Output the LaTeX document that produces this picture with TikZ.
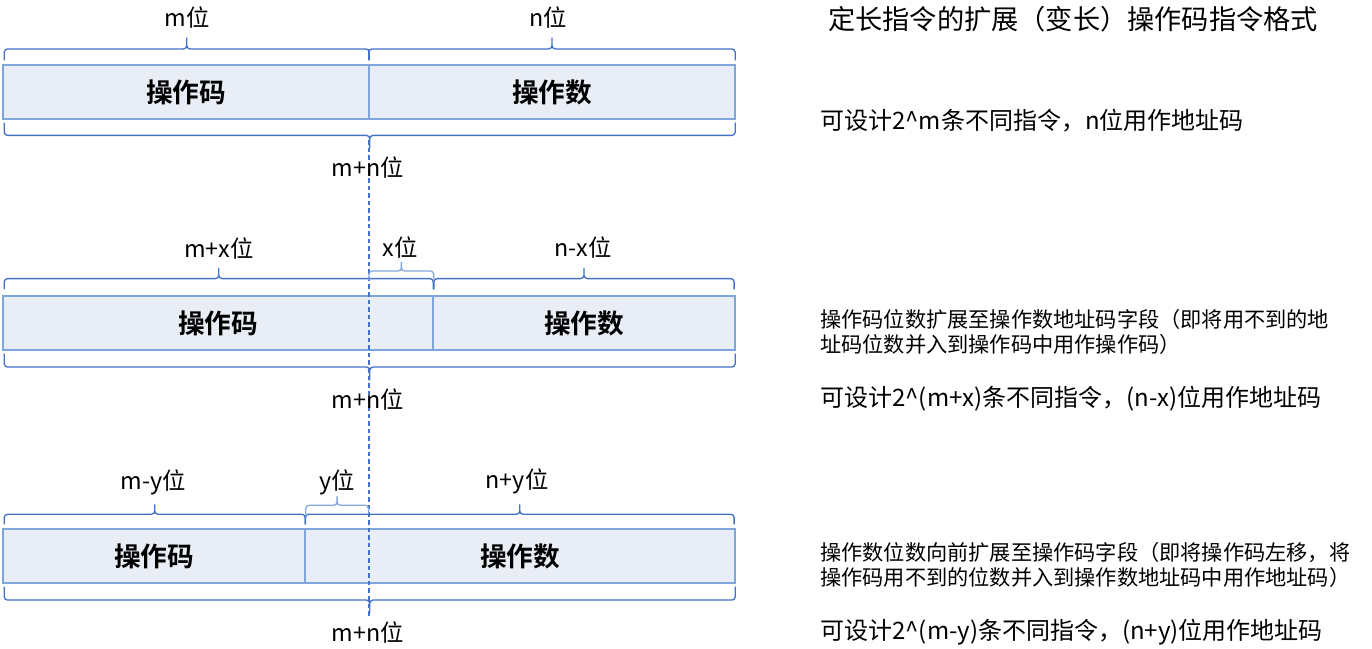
\documentclass[tikz,border=0pt]{standalone}
\usepackage{fontspec}
\setmainfont{Noto Sans CJK SC}[BoldFont={Noto Sans CJK SC Bold}]
\usepackage{tikz}
\usetikzlibrary{calc}
\definecolor{fieldfill}{RGB}{233,237,246}
\definecolor{fielddraw}{RGB}{124,166,220}
\definecolor{bracedark}{RGB}{68,114,196}
\definecolor{bracelight}{RGB}{132,168,222}
\tikzset{
  field/.style={
    rectangle, draw=fielddraw, fill=fieldfill, line width=1.1pt,
    inner sep=0pt, minimum height=40.5pt,
    font=\fontsize{20}{24}\selectfont\bfseries
  },
  brc/.style={draw=bracedark, line width=1pt, rounded corners=2.5pt},
  lbrc/.style={brc, draw=bracelight},
  brcup/.style={to path={let \p1=(\tikztostart), \p2=(\tikztotarget) in
      (\p1) |- ({(\x1+\x2)/2},{\y1+#1}) -- ({(\x1+\x2)/2},{\y1+2*#1})
      (\p2) |- ({(\x1+\x2)/2},{\y1+#1}) -- ({(\x1+\x2)/2},{\y1+2*#1})}},
  brcdn/.style={to path={let \p1=(\tikztostart), \p2=(\tikztotarget) in
      (\p1) |- ({(\x1+\x2)/2},{\y1-#1}) -- ({(\x1+\x2)/2},{\y1-2*#1})
      (\p2) |- ({(\x1+\x2)/2},{\y1-#1}) -- ({(\x1+\x2)/2},{\y1-2*#1})}},
  bits/.style={font=\fontsize{17.5}{20}\selectfont},
  note/.style={anchor=west, inner sep=0pt, font=\fontsize{18}{21}\selectfont},
  desc/.style={anchor=west, inner sep=0pt, align=left,
    font=\fontsize{15.9}{19}\selectfont},
  cut/.style={draw=bracedark, line width=1pt, dash pattern=on 3.4pt off 2.3pt}
}
\begin{document}
\begin{tikzpicture}[x=0.75pt, y=-0.75pt]
  \useasboundingbox (0,0) rectangle (1372,649);

  \node[field, minimum width=274.5pt] (opc1) at (186,92)  {操作码};
  \node[field, minimum width=274.5pt] (opd1) at (552,92)  {操作数};
  \node[field, minimum width=322.5pt] (opc2) at (218,323) {操作码};
  \node[field, minimum width=226.5pt] (opd2) at (584,323) {操作数};
  \node[field, minimum width=226.5pt] (opc3) at (154,556) {操作码};
  \node[field, minimum width=322.5pt] (opd3) at (520,556) {操作数};

  \coordinate (cut2) at (369,296);
  \coordinate (dtop) at (369,140);
  \coordinate (dbot) at (369,618);
  \draw[cut] (dtop) -- (dbot);

  \draw[brc] ([xshift=1.5pt,yshift=3pt]opc1.north west)
    to[brcup=8.5pt] ([xshift=-0.4pt,yshift=3pt]opc1.north east);
  \draw[brc] ([xshift=0.4pt,yshift=3pt]opd1.north west)
    to[brcup=8.5pt] ([xshift=-0.4pt,yshift=3pt]opd1.north east);
  \draw[brc] ([xshift=-0.4pt,yshift=-2.25pt]opd1.south east)
    to[brcdn=9.5pt] ([xshift=1.5pt,yshift=-2.25pt]opc1.south west);

  \draw[brc] ([xshift=1.5pt,yshift=4.5pt]opc2.north west)
    to[brcup=8pt] ([xshift=-0.4pt,yshift=4.5pt]opc2.north east);
  \draw[lbrc] ([yshift=12pt]cut2)
    to[brcup=6.75pt] ([yshift=12pt]opc2.north east);
  \draw[brc] ([xshift=1.2pt,yshift=4.5pt]opd2.north west)
    to[brcup=8pt] ([xshift=-1.2pt,yshift=4.5pt]opd2.north east);
  \draw[brc] ([xshift=-0.4pt,yshift=-2.25pt]opd2.south east)
    to[brcdn=10pt] ([xshift=1.5pt,yshift=-2.25pt]opc2.south west);

  \draw[brc] ([xshift=1.5pt,yshift=3pt]opc3.north west)
    to[brcup=7.5pt] ([xshift=-0.4pt,yshift=3pt]opc3.north east);
  \draw[lbrc] ([yshift=10.5pt]opc3.north east)
    to[brcup=6.75pt] ([xshift=-0.4pt,yshift=10.5pt]opd3.north west -| dtop);
  \draw[brc] ([xshift=0.8pt,yshift=3pt]opd3.north west)
    to[brcup=7.5pt] ([xshift=-1.2pt,yshift=3pt]opd3.north east);
  \draw[brc] ([xshift=-0.4pt,yshift=-2.25pt]opd3.south east)
    to[brcdn=10pt] ([xshift=1.5pt,yshift=-2.25pt]opc3.south west);

  \node[bits] (lm1)  at (187,18)  {m位};
  \node[bits] (ln1)  at (548,18)  {n位};
  \node[bits] (lmn1) at (368,168) {m+n位};
  \node[bits] (lm2)  at (219,249) {m+x位};
  \node[bits] (lx2)  at (400,248) {x位};
  \node[bits] (ln2)  at (583,248) {n-x位};
  \node[bits] (lmn2) at (368,400) {m+n位};
  \node[bits] (lm3)  at (153,482) {m-y位};
  \node[bits] (ly3)  at (337,482) {y位};
  \node[bits] (ln3)  at (517,481) {n+y位};
  \node[bits] (lmn3) at (368,633) {m+n位};

  \node[note, font=\fontsize{20.4}{24}\selectfont] (title) at (828,19)
    {定长指令的扩展（变长）操作码指令格式};
  \node[note] (cnt1) at (820,121)
    {可设计2\textasciicircum m条不同指令，n位用作地址码};
  \node[desc] (dsc2) at (820,332)
    {操作码位数扩展至操作数地址码字段（即将用不到的地\\址码位数并入到操作码中用作操作码）};
  \node[note] (cnt2) at (820,399)
    {可设计2\textasciicircum (m+x)条不同指令，(n-x)位用作地址码};
  \node[desc] (dsc3) at (820,565)
    {操作数位数向前扩展至操作码字段（即将操作码左移，将\\操作码用不到的位数并入到操作数地址码中用作地址码）};
  \node[note] (cnt3) at (820,632)
    {可设计2\textasciicircum (m-y)条不同指令，(n+y)位用作地址码};
\end{tikzpicture}
\end{document}
